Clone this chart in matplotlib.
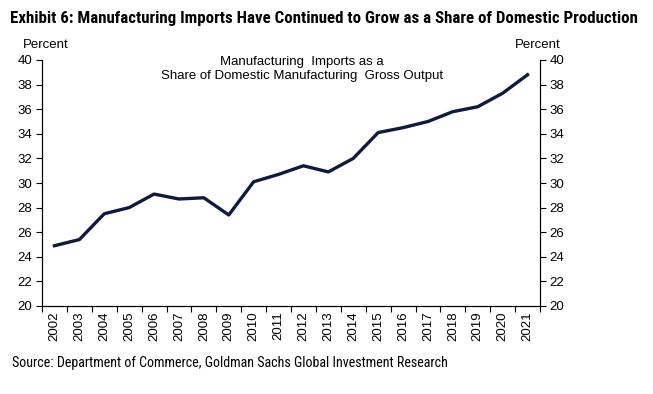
import matplotlib
matplotlib.use("Agg")
import matplotlib.pyplot as plt
from matplotlib import font_manager as fm
import numpy as np

years = [str(y) for y in range(2002, 2022)]
share = [24.9, 25.4, 27.5, 28.0, 29.1, 28.7, 28.8, 27.4, 30.1, 30.7,
         31.4, 30.9, 32.0, 34.1, 34.5, 35.0, 35.8, 36.2, 37.3, 38.8]
yticks = list(range(20, 41, 2))

plt.rcParams['font.family'] = ['Liberation Sans', 'DejaVu Sans']

# pick a condensed family if available
narrow = None
for fam in ['Liberation Sans Narrow', 'Roboto Condensed', 'Open Sans Condensed',
            'DejaVu Sans Condensed', 'Noto Sans Condensed']:
    try:
        fm.findfont(fm.FontProperties(family=fam), fallback_to_default=False)
        narrow = fam
        break
    except Exception:
        pass
if narrow is None:
    narrow = 'Roboto'

fig = plt.figure(figsize=(6.53, 3.94), dpi=100)
ax = fig.add_axes([42/653, 1-306/394, (540-42)/653, (306-60)/394])

x = np.arange(len(years))
ax.plot(x, share, color='#111a3e', lw=2.4, solid_joinstyle='round')
ax.set_xlim(-0.5, len(years)-0.5)
ax.set_ylim(20, 40)
ax.set_yticks(yticks)
ax.set_yticklabels([str(t) for t in yticks], fontsize=9.5)
ax.set_xticks(x)
ax.set_xticklabels(years, rotation=90, fontsize=9.5)
ax.set_xticks(np.arange(-0.5, len(years), 1), minor=True)
ax.tick_params(axis='x', which='major', length=0, pad=4)
ax.tick_params(axis='x', which='minor', length=4, direction='out', width=0.8)
ax.tick_params(axis='y', length=4, direction='out', width=0.8, pad=3)
ax.spines['top'].set_visible(False)
for s in ['left', 'right', 'bottom']:
    ax.spines[s].set_linewidth(0.8)

ax2 = ax.twinx()
ax2.set_ylim(20, 40)
ax2.set_yticks(yticks)
ax2.set_yticklabels([str(t) for t in yticks], fontsize=9.5)
ax2.tick_params(axis='y', length=4, direction='out', width=0.8, pad=3)
ax2.spines['top'].set_visible(False)
ax2.spines['right'].set_linewidth(0.8)

fig.text(46/653, 1-45/394, 'Percent', fontsize=9.5, ha='center', va='center')
fig.text(538/653, 1-45/394, 'Percent', fontsize=9.5, ha='center', va='center')
fig.text(302/653, 1-69/394, 'Manufacturing  Imports as a\nShare of Domestic Manufacturing  Gross Output',
         fontsize=9.5, ha='center', va='center', linespacing=1.15)

title = fig.text(10/653, 1-18/394,
                 'Exhibit 6: Manufacturing Imports Have Continued to Grow as a Share of Domestic Production',
                 fontsize=13, fontweight='bold', family=[narrow, 'DejaVu Sans'],
                 fontstretch='condensed', ha='left', va='center')
src = fig.text(12/653, 1-363/394,
               'Source: Department of Commerce, Goldman Sachs Global Investment Research',
               fontsize=10, family=[narrow, 'DejaVu Sans'], fontstretch='condensed',
               ha='left', va='center')

# fit widths to reference
fig.canvas.draw()
r = fig.canvas.get_renderer()
for t, target in [(title, 630), (src, 436)]:
    for _ in range(3):
        w = t.get_window_extent(r).width
        t.set_fontsize(t.get_fontsize() * target / w)
        fig.canvas.draw()

fig.savefig('out.png', dpi=100)
